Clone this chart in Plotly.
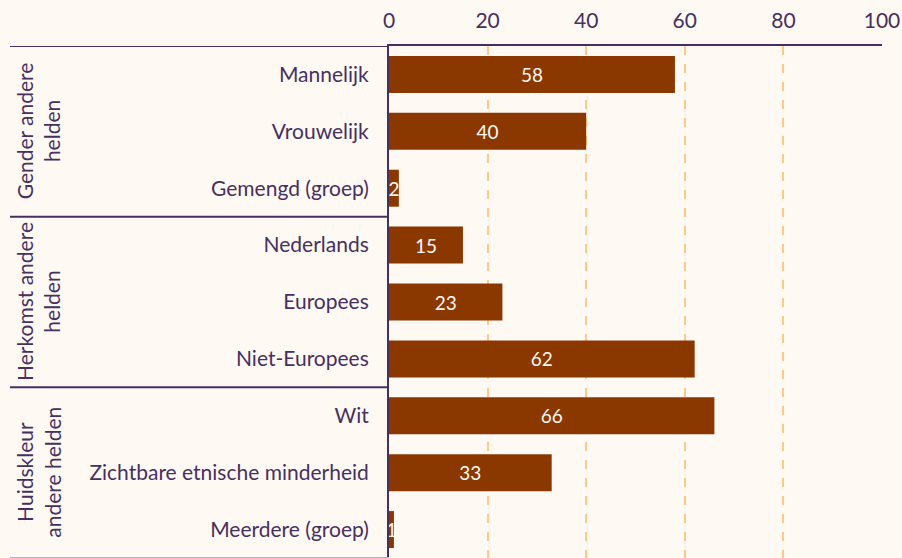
import plotly.graph_objects as go

# data (percentages)
groups = ["Gender andere<br>helden", "Herkomst andere<br>helden", "Huidskleur<br>andere helden"]
group_sizes = [3, 3, 3]
categories = ["Mannelijk", "Vrouwelijk", "Gemengd (groep)",
              "Nederlands", "Europees", "Niet-Europees",
              "Wit", "Zichtbare etnische minderheid", "Meerdere (groep)"]
values = [58, 40, 2, 15, 23, 62, 66, 33, 1]
x_ticks = [0, 20, 40, 60, 80, 100]

bg = "#fef9f3"
purple = "#46305f"
bar_color = "#8a3700"
grid_color = "#ffc98c"
font = "Lato, 'Open Sans', sans-serif"

fig = go.Figure()
fig.add_trace(go.Bar(
    x=values,
    y=categories,
    orientation="h",
    marker=dict(color=bar_color, line=dict(width=0)),
    width=0.65,
    text=[str(v) for v in values],
    textposition="inside",
    insidetextanchor="middle",
    constraintext="none",
    textfont=dict(color=bg, size=19, family=font),
    cliponaxis=False,
    hoverinfo="x+y",
))

# group separator lines + group labels on the left
shapes = []
annotations = []
left_px, plot_left, plot_w = 10, 389, 493
x_left = (left_px - plot_left) / plot_w
x_mid = (82 - plot_left) / plot_w
x_lab = (38 - plot_left) / plot_w
start = 0
for g, n in zip(groups, group_sizes):
    top = start - 0.5
    for xa, xb in [(x_left, x_mid), (x_mid, 0)]:
        shapes.append(dict(type="line", xref="paper", yref="y", x0=xa, x1=xb,
                           y0=top, y1=top, line=dict(color=purple, width=2)))
    annotations.append(dict(text=g, xref="paper", yref="y", x=x_lab,
                            y=start + (n - 1) / 2, textangle=-90, showarrow=False,
                            xanchor="center", yanchor="middle",
                            font=dict(size=21, color=purple, family=font),
                            align="center"))
    start += n
bottom = start - 0.5
shapes.append(dict(type="line", xref="paper", yref="y", x0=x_left, x1=0,
                   y0=bottom, y1=bottom, line=dict(color="#b9aec6", width=2)))

fig.update_layout(
    width=902, height=558,
    margin=dict(l=389, r=20, t=46, b=0, autoexpand=False),
    paper_bgcolor=bg, plot_bgcolor=bg,
    font=dict(family=font, color=purple, size=21),
    showlegend=False,
    shapes=shapes,
    annotations=annotations,
    xaxis=dict(side="top", range=[0, 100], tickvals=x_ticks,
               showgrid=True, gridcolor=grid_color, griddash="dash", gridwidth=1.5,
               showline=True, linecolor=purple, linewidth=2,
               zeroline=False, ticks="", ticklabelstandoff=8,
               tickfont=dict(size=21, color=purple)),
    yaxis=dict(categoryorder="array", categoryarray=categories,
               range=[8.5, -0.5],
               showline=True, linecolor=purple, linewidth=2,
               showgrid=False, zeroline=False, ticks="",
               ticklabelstandoff=14, tickfont=dict(size=21, color=purple)),
)

# drop the page's default body margin so the chart fills the window
fig.write_html("out.html",
               config={"displayModeBar": False},
               post_script="document.body.style.margin='0';"
                           "document.body.style.background='%s';" % bg)
